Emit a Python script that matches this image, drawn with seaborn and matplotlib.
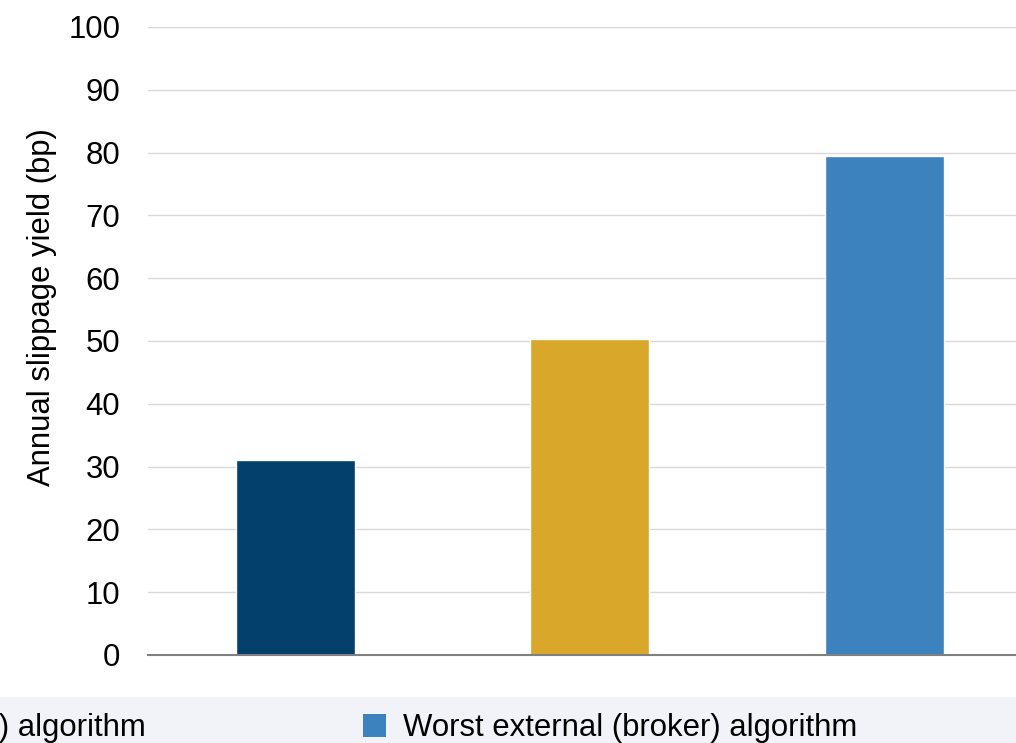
import matplotlib
matplotlib.use("Agg")
import matplotlib.pyplot as plt
import seaborn as sns
import pandas as pd
from matplotlib.patches import Patch, Rectangle

categories = ["Internal algorithm",
              "Best external (broker) algorithm",
              "Worst external (broker) algorithm"]
values = [31.0, 50.3, 79.4]
colors = ["#03406B", "#D9A82B", "#3C82BE"]
yticks = [0, 10, 20, 30, 40, 50, 60, 70, 80, 90, 100]
ylabel = "Annual slippage yield (bp)"

sns.set_theme(style="white")
plt.rcParams["font.family"] = ["Liberation Sans", "DejaVu Sans"]

W, H = 1016, 743
fig = plt.figure(figsize=(W / 100, H / 100), dpi=100)
fig.patch.set_facecolor("white")

# legend band
fig.patches.append(Rectangle((0, 0), 1, (H - 697) / H, transform=fig.transFigure,
                             facecolor="#F2F3F8", edgecolor="none", zorder=0))

left = 148 / W
bottom = (H - 655) / H
width = (1031.5 - 148) / W
height = (655 - 27) / H
ax = fig.add_axes([left, bottom, width, height])
ax.set_facecolor("white")

df = pd.DataFrame({"cat": categories, "val": values})
sns.barplot(data=df, x="cat", y="val", hue="cat", palette=colors,
            width=0.404, ax=ax, legend=False, saturation=1)

ax.set_xlim(-0.5, 2.5)
ax.set_ylim(0, 100)
ax.set_yticks(yticks)
ax.set_yticklabels([str(t) for t in yticks], fontsize=22.4, color="#000000")
ax.tick_params(axis="y", length=0, pad=20)
ax.set_xticks([])
ax.set_xlabel("")
ax.set_ylabel(ylabel, fontsize=22.3, color="#000000")
ax.yaxis.set_label_coords(-0.1035, 0.554)

ax.yaxis.grid(True, color="#D9D9D9", linewidth=1.0)
ax.set_axisbelow(True)
for s in ["left", "right", "top"]:
    ax.spines[s].set_visible(False)
ax.spines["bottom"].set_color("#808080")
ax.spines["bottom"].set_linewidth(1.5)
ax.spines["bottom"].set_zorder(5)

handles = [Patch(facecolor=c, edgecolor="none") for c in colors]
fig.legend(handles, categories, ncol=3, loc="center right",
           bbox_to_anchor=(857 / W, 0.020), frameon=False, fontsize=22.4,
           handlelength=0.74, handleheight=0.74, handletextpad=0.55,
           columnspacing=6.98, borderpad=0, borderaxespad=0,
           labelcolor="#000000")

fig.savefig("out.png", dpi=100)
